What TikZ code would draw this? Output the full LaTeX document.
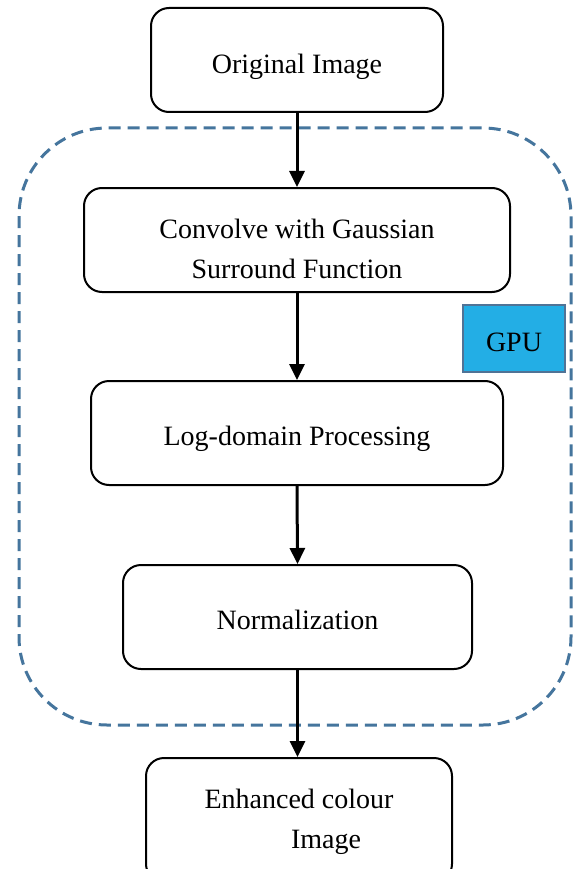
\documentclass[tikz,border=0pt]{standalone}
\usepackage{fontspec}
\setmainfont{Liberation Serif}
\usetikzlibrary{arrows.meta}
\definecolor{dashblue}{RGB}{69,117,157}
\definecolor{gpufill}{RGB}{35,174,229}
\definecolor{gpuedge}{RGB}{80,115,150}
\newcommand{\lowr}[2]{\raisebox{-#1}[\height][\depth]{#2}}
\tikzset{
  stepbox/.style={draw=black, line width=2pt, rounded corners=18pt, align=center,
    font=\fontsize{28}{40}\selectfont, inner sep=0pt},
  arr/.style={line width=3pt, -{Triangle[length=16pt,width=15pt]}},
}
\begin{document}
\begin{tikzpicture}[x=1pt,y=-1pt]
\useasboundingbox (0,0) rectangle (573,869);
\clip (0,0) rectangle (573,869);
\fill[white] (0,0) rectangle (573,869);
\draw[dashblue, line width=3pt, dash pattern=on 12pt off 7pt, rounded corners=88pt]
  (19,128) rectangle (571,725);
\node[stepbox, minimum width=292pt, minimum height=104pt] (orig) at (297,60) {\lowr{7pt}{Original Image}};
\node[stepbox, minimum width=426pt, minimum height=104pt] (conv) at (297,240) {\lowr{10pt}{\begin{tabular}{@{}c@{}}Convolve with Gaussian\\Surround Function\end{tabular}}};
\node[stepbox, minimum width=412pt, minimum height=104pt] (logd) at (297,433) {\lowr{6pt}{Log-domain Processing}};
\node[stepbox, minimum width=349pt, minimum height=104pt] (norm) at (297.5,617) {\lowr{3pt}{Normalization}};
\node[stepbox, minimum width=306pt, minimum height=124pt] (enh) at (299,820) {\begin{tabular}{@{}c@{}}Enhanced colour\\\hspace*{54pt}Image\end{tabular}};
\node[draw=gpuedge, fill=gpufill, line width=1.5pt, minimum width=102pt, minimum height=67pt,
  inner sep=0pt, font=\fontsize{28}{34}\selectfont] (gpu) at (514,338.5) {\lowr{4pt}{GPU}};
\draw[arr] (orig.south) -- (conv.north);
\draw[arr] (conv.south) -- (logd.north);
\draw[arr] (logd.south) -- (norm.north);
\draw[arr] (norm.south) -- (norm.south |- enh.north);
\end{tikzpicture}
\end{document}
